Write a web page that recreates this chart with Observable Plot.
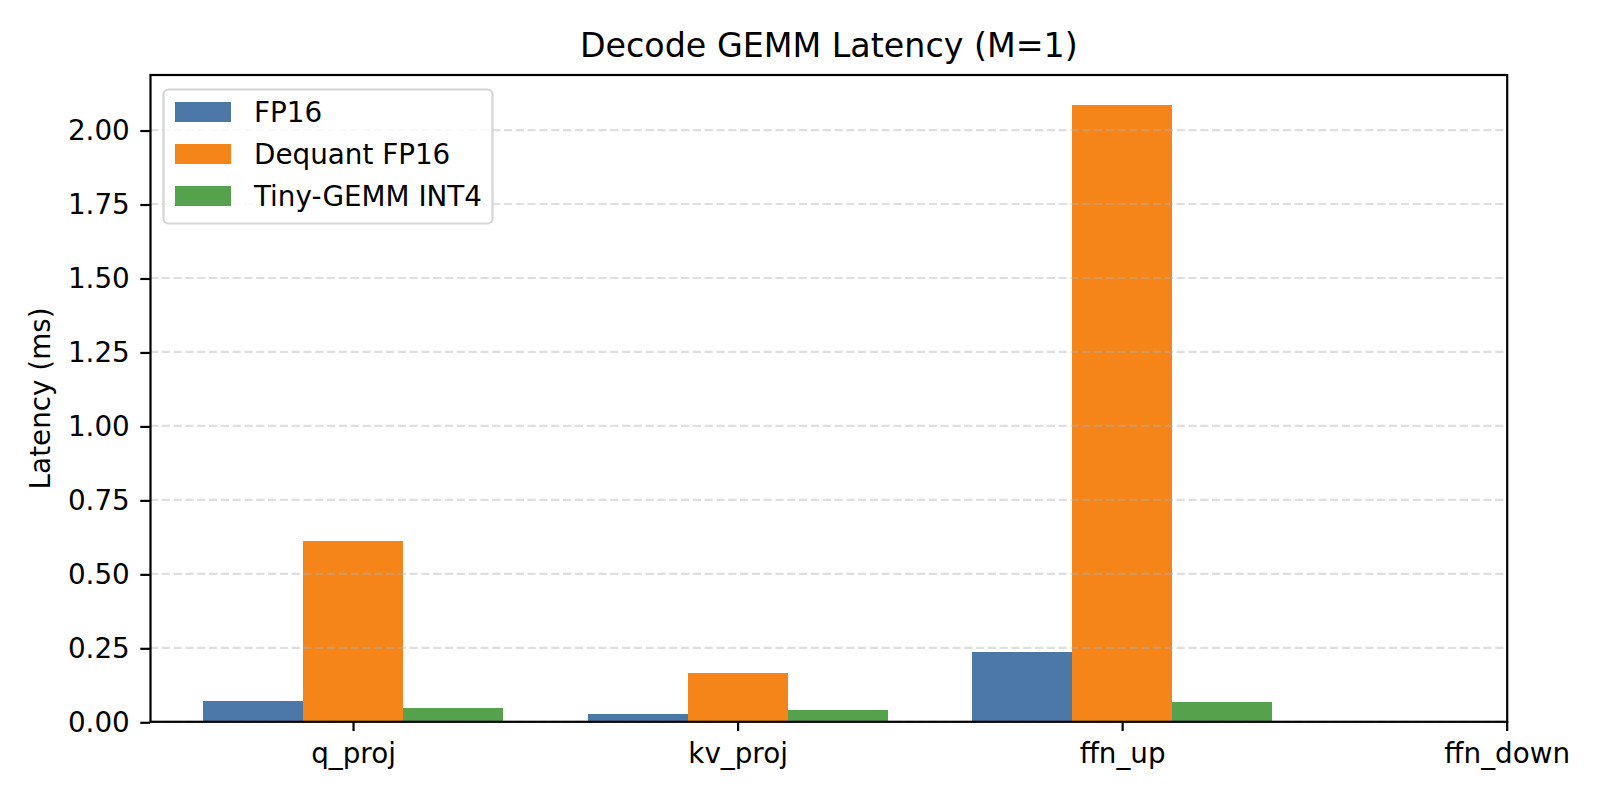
<!DOCTYPE html>
<html>
<head>
<meta charset="utf-8">
<script src="https://cdn.jsdelivr.net/npm/d3@7"></script>
<script src="https://cdn.jsdelivr.net/npm/@observablehq/plot@0.6"></script>
<style>
  html, body { margin: 0; padding: 0; background: white; }
  #wrap { position: relative; width: 1600px; height: 800px; font-family: "DejaVu Sans", sans-serif; }
  #legend { position: absolute; left: 0; top: 0; pointer-events: none; }
</style>
</head>
<body>
<div id="wrap"></div>
<script>
// ---- data ----
const categories = ["q_proj", "kv_proj", "ffn_up", "ffn_down"];
const seriesNames = ["FP16", "Dequant FP16", "Tiny-GEMM INT4"];
const fp16Values    = [0.069, 0.025, 0.235, null];
const dequantValues = [0.610, 0.163, 2.082, null];
const tinyValues    = [0.045, 0.038, 0.065, null];
const yTicks = [0, 0.25, 0.5, 0.75, 1.0, 1.25, 1.5, 1.75, 2.0];
const colors = ["#4C78A8", "#F58518", "#54A24B"];
const titleText = "Decode GEMM Latency (M=1)";
const yLabel = "Latency (ms)";

// ---- build table ----
const barWidth = 0.26;
const seriesValues = [fp16Values, dequantValues, tinyValues];
const rows = [];
categories.forEach((c, i) => {
  seriesNames.forEach((s, k) => {
    const v = seriesValues[k][i];
    if (v != null) {
      const x1 = i + (k - 1.5) * barWidth;
      rows.push({category: c, series: s, value: v, x1, x2: x1 + barWidth});
    }
  });
});

const FS = 27.8;
const chart = Plot.plot({
  width: 1600,
  height: 800,
  marginLeft: 150,
  marginRight: 93.3,
  marginTop: 74.5,
  marginBottom: 78.7,
  style: {fontFamily: "DejaVu Sans", fontSize: FS + "px", background: "white", color: "black"},
  x: {type: "linear", domain: [-0.528, 3]},
  y: {domain: [0, 2.186]},
  color: {domain: seriesNames, range: colors},
  marks: [
    Plot.rectY(rows, {x1: "x1", x2: "x2", y1: 0, y2: "value", fill: "series", shapeRendering: "crispEdges"}),
    Plot.gridY(yTicks, {stroke: "#b0b0b0", strokeOpacity: 0.4, strokeWidth: 2.2, strokeDasharray: "8.2,3.6"}),
    Plot.frame({stroke: "black", strokeWidth: 2.2}),
    Plot.axisY(yTicks, {tickFormat: d3.format(".2f"), tickSize: 9.7, tickPadding: 11, strokeWidth: 2.2, fontSize: FS, dy: 1, label: null}),
    Plot.axisX(d3.range(categories.length), {tickFormat: i => categories[i], tickSize: 9.7, tickPadding: 12, strokeWidth: 2.2, fontSize: FS, label: null}),
    Plot.text([titleText], {frameAnchor: "top", textAnchor: "middle", lineAnchor: "bottom", dy: -17.8, fontSize: 33.3, text: d => d}),
    Plot.text([yLabel], {frameAnchor: "left", textAnchor: "middle", lineAnchor: "middle", rotate: -90, dx: -109.5, fontSize: FS, text: d => d})
  ]
});

const wrap = document.getElementById("wrap");
wrap.appendChild(chart);

// ---- legend overlay ----
const ns = "http://www.w3.org/2000/svg";
const lg = document.createElementNS(ns, "svg");
lg.setAttribute("id", "legend");
lg.setAttribute("width", 1600);
lg.setAttribute("height", 800);
const box = document.createElementNS(ns, "rect");
box.setAttribute("x", 163.5); box.setAttribute("y", 89.5);
box.setAttribute("width", 329); box.setAttribute("height", 134);
box.setAttribute("rx", 5); box.setAttribute("fill", "white"); box.setAttribute("fill-opacity", 0.8);
box.setAttribute("stroke", "#d5d5d5"); box.setAttribute("stroke-width", 2.2);
lg.appendChild(box);
seriesNames.forEach((s, k) => {
  const top = 102 + k * 42;
  const r = document.createElementNS(ns, "rect");
  r.setAttribute("x", 175); r.setAttribute("y", top);
  r.setAttribute("width", 56); r.setAttribute("height", 20);
  r.setAttribute("fill", colors[k]);
  lg.appendChild(r);
  const t = document.createElementNS(ns, "text");
  t.setAttribute("x", 254); t.setAttribute("y", top + 20);
  t.setAttribute("font-family", "DejaVu Sans"); t.setAttribute("font-size", FS);
  t.setAttribute("fill", "black");
  t.textContent = s;
  lg.appendChild(t);
});
wrap.appendChild(lg);
</script>
</body>
</html>
